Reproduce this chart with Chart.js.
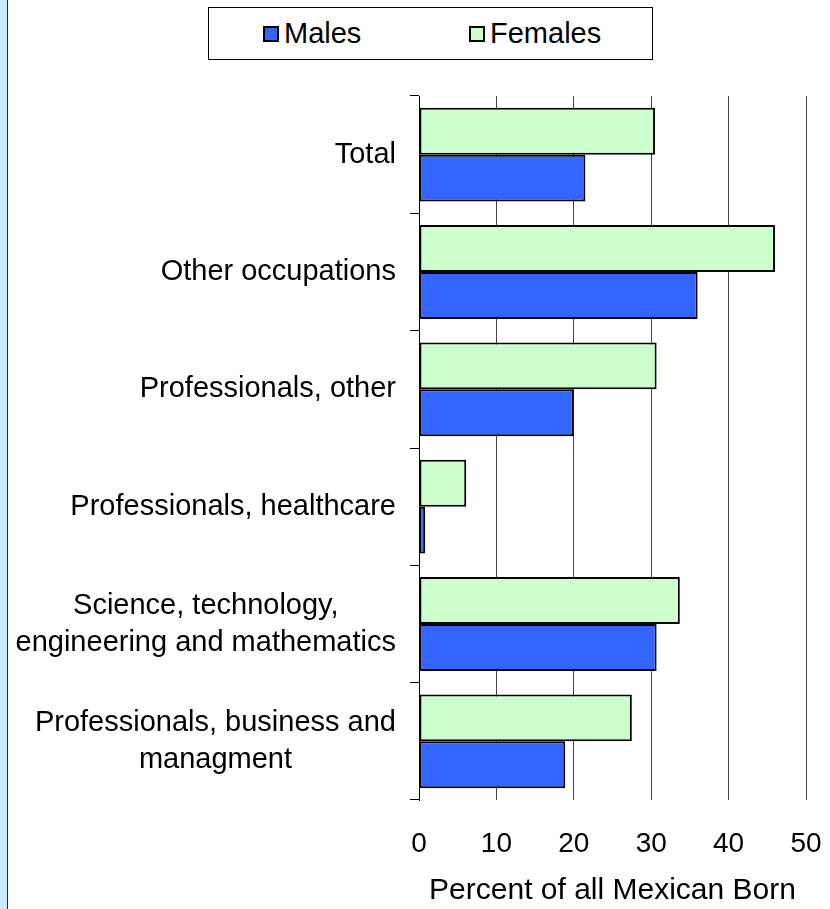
<!DOCTYPE html>
<html>
<head>
<meta charset="utf-8">
<script src="https://cdn.jsdelivr.net/npm/chart.js@4.4.0/dist/chart.umd.min.js"></script>
<style>
  html, body { margin: 0; padding: 0; }
  body {
    width: 830px; height: 909px;
    background: linear-gradient(to right, #cde8fc 0 7px, #1e2b3c 7px 8px, #fff 8px);
    font-family: 'Liberation Sans', Arial, sans-serif;
  }
  #wrap { position: relative; width: 830px; height: 909px; }
  #legend {
    position: absolute; left: 208px; top: 7px; width: 445px; height: 53px;
    box-sizing: border-box; border: 1px solid #000; background: #fff;
    display: flex; align-items: center; padding-left: 54px;
  }
  #legend .item { display: flex; align-items: center; font-size: 29px; color: #000; }
  #legend .item:first-child { width: 206px; }
  #legend .sw { width: 16px; height: 16px; box-sizing: border-box; border: 2px solid #000; margin-right: 5px; }
</style>
</head>
<body>
<div id="wrap">
  <canvas id="chart" width="830" height="909"></canvas>
  <div id="legend"></div>
</div>
<script>
const categories = [
  ['Total'],
  ['Other occupations'],
  ['Professionals, other'],
  ['Professionals, healthcare'],
  ['Science, technology,', 'engineering and mathematics'],
  ['Professionals, business and', 'managment']
];
const females = [30.5, 46.0, 30.7, 6.1, 33.7, 27.5];
const males = [21.5, 36.0, 20.0, 0.8, 30.7, 18.9];
const xTicks = [0, 10, 20, 30, 40, 50];

const FONT = "'Liberation Sans', Arial, sans-serif";
Chart.defaults.font.family = FONT;
Chart.defaults.font.size = 28;
Chart.defaults.color = '#000';

// excel-style category labels: block right aligned, lines centred inside it
const yLabels = {
  id: 'yLabels',
  afterDraw(chart) {
    const { ctx } = chart;
    const y = chart.scales.y;
    const right = chart.chartArea.left - 23;
    const lh = 37;
    ctx.save();
    ctx.font = '29px ' + FONT;
    ctx.fillStyle = '#000';
    ctx.textAlign = 'center';
    ctx.textBaseline = 'middle';
    categories.forEach((lines, i) => {
      const w = Math.max(...lines.map(t => ctx.measureText(t).width));
      const cx = right - w / 2;
      const cy = y.getPixelForValue(i);
      lines.forEach((t, k) => ctx.fillText(t, cx, cy + (k - (lines.length - 1) / 2) * lh));
    });
    ctx.restore();
  }
};

const htmlLegend = {
  id: 'htmlLegend',
  afterUpdate(chart) {
    const box = document.getElementById('legend');
    box.innerHTML = '';
    const items = chart.options.plugins.legend.labels.generateLabels(chart).reverse();
    items.forEach(it => {
      const el = document.createElement('div');
      el.className = 'item';
      const sw = document.createElement('span');
      sw.className = 'sw';
      sw.style.background = it.fillStyle;
      const tx = document.createElement('span');
      tx.textContent = it.text;
      el.append(sw, tx);
      box.appendChild(el);
    });
  }
};

new Chart(document.getElementById('chart'), {
  type: 'bar',
  data: {
    labels: categories,
    datasets: [
      { label: 'Females', data: females, backgroundColor: '#CCFFCC', borderColor: '#000', borderWidth: 2, borderSkipped: false },
      { label: 'Males', data: males, backgroundColor: '#3366FF', borderColor: '#000', borderWidth: 2, borderSkipped: false }
    ]
  },
  options: {
    indexAxis: 'y',
    responsive: false,
    animation: false,
    categoryPercentage: 0.8,
    barPercentage: 1.0,
    layout: { padding: { top: 96, right: 24, bottom: 0, left: 0 } },
    plugins: {
      legend: { display: false },
      tooltip: { enabled: false }
    },
    scales: {
      y: {
        grid: { drawOnChartArea: false, drawTicks: true, tickLength: 9, color: '#000', offset: true },
        border: { color: '#000', width: 1 },
        ticks: { display: false },
        afterFit: s => { s.width = 419; }
      },
      x: {
        min: 0,
        max: 50,
        afterBuildTicks: s => { s.ticks = xTicks.map(v => ({ value: v })); },
        grid: { color: '#444', drawTicks: false },
        border: { display: false },
        ticks: { padding: 27, font: { size: 28 } },
        title: { display: true, text: 'Percent of all Mexican Born', font: { size: 30 }, padding: { top: 0, bottom: 0 } },
        afterFit: s => { s.height = 109; s.paddingLeft = 0; s.paddingRight = 0; }
      }
    }
  },
  plugins: [yLabels, htmlLegend]
});
</script>
</body>
</html>
